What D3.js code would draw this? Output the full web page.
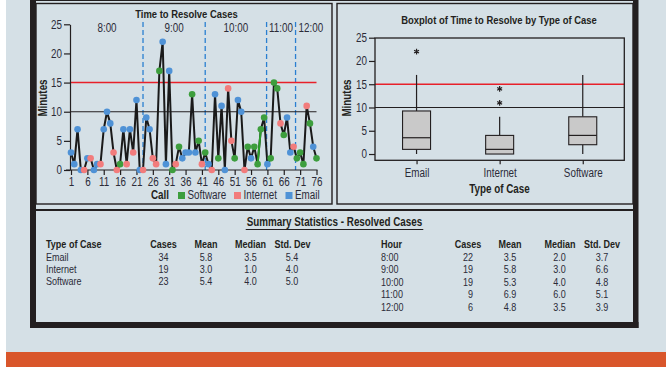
<!DOCTYPE html>
<html><head><meta charset="utf-8">
<script src="https://cdn.jsdelivr.net/npm/d3@7"></script>
<style>
body{margin:0;background:#fff;}
svg{display:block;font-family:"Liberation Sans",Arial,sans-serif;}
</style></head><body><svg id="c" width="666" height="367"></svg>
<script>
// ---------- data ----------
const minutes = [3,1,7,0,0,2,2,0,1,1, 7,10,8,3,0,1,7,1,7,3, 12,0,0,9,7,2,1,17,22,1,
  17,0,1,4,2,3,3,13,3,5, 1,3,1,0,13,2,11,0,14,5, 2,12,10,0,4,2,4,1,7,9,
  1,2,15,14,8,6,9,3,4,2, 3,1,11,8,4,2];
const caseCode = ["E","E","E","E","I","E","I","E","E","I", "E","E","E","I","I","S","E","I","E","I",
  "E","E","I","E","E","I","I","S","E","E", "E","S","I","S","E","E","E","S","E","S",
  "I","S","E","I","E","S","E","E","I","I", "S","E","E","I","S","E","S","S","S","S",
  "E","S","S","S","I","S","E","E","I","S", "S","S","I","S","E","S"];
const typeNames = {E:"Email", I:"Internet", S:"Software"};
const categories = ["Email","Internet","Software"];
const legendOrder = ["Software","Internet","Email"];
const typeColors = ["#4f92d6","#f27c7c","#3d9e3d"]; // Email, Internet, Software
const hourLabels = ["8:00","9:00","10:00","11:00","12:00"];
const hourBreaks = [1, 23, 42, 60.75, 69.6, 79];
const greenSegment = [58, 59];
const yTicks = [0,5,10,15,20,25];
const xTicks = [1,6,11,16,21,26,31,36,41,46,51,56,61,66,71,76];
const refRed = 15, refBlack = 10;

const typeRows = ["Email","Internet","Software"];
const typeCases = [34,19,23];
const typeMean = ["5.8","3.0","5.4"];
const typeMedian = ["3.5","1.0","4.0"];
const typeSD = ["5.4","4.0","5.0"];
const hourRows = ["8:00","9:00","10:00","11:00","12:00"];
const hourCases = [22,19,19,9,6];
const hourMean = ["3.5","5.8","5.3","6.9","4.8"];
const hourMedian = ["2.0","3.0","4.0","6.0","3.5"];
const hourSD = ["3.7","6.6","4.8","5.1","3.9"];

// ---------- setup ----------
const svg = d3.select("#c");
const BG = "#d5e0e6", INK = "#231f20", TXT = "#2b2b38";
const NARROW = 0.82;
const color = d3.scaleOrdinal().domain(categories).range(typeColors);
const calls = minutes.map((m,i)=>({call:i+1, m, type:typeNames[caseCode[i]]}));

svg.append("rect").attr("x",6).attr("y",0).attr("width",660).attr("height",352).attr("fill",BG);
svg.append("rect").attr("x",6).attr("y",352).attr("width",660).attr("height",15).attr("fill","#d9562b");

// panels
svg.append("rect").attr("x",36).attr("y",3.5).attr("width",296).attr("height",200.5).attr("fill","none").attr("stroke",INK).attr("stroke-width",1.4);
svg.append("rect").attr("x",337).attr("y",3.5).attr("width",296).attr("height",200.5).attr("fill","none").attr("stroke",INK).attr("stroke-width",1.4);
svg.append("line").attr("x1",36).attr("x2",633).attr("y1",210).attr("y2",210).attr("stroke",INK).attr("stroke-width",2);
// thick frame
svg.append("rect").attr("x",30).attr("y",0).attr("width",6).attr("height",328).attr("fill",INK);
svg.append("rect").attr("x",633).attr("y",0).attr("width",5.5).attr("height",328).attr("fill",INK);
svg.append("rect").attr("x",30).attr("y",322).attr("width",608.5).attr("height",6).attr("fill",INK);
svg.append("line").attr("x1",30).attr("x2",638).attr("y1",0.5).attr("y2",0.5).attr("stroke",INK).attr("stroke-width",1);

// ---------- left: time series ----------
const x = d3.scaleLinear().domain([1,76]).range([71,316.5]);
const y = d3.scaleLinear().domain([0,25]).range([170,24.3]);
const L = svg.append("g");

L.append("text").attr("x",186.5).attr("y",18).attr("text-anchor","middle")
  .attr("font-weight","bold").attr("font-size",11.5).attr("fill",INK).text("Time to Resolve Cases");

// hour breaks + labels
L.selectAll(".hb").data(hourBreaks.slice(1,-1)).join("line")
  .attr("x1",d=>x(d)).attr("x2",d=>x(d)).attr("y1",22).attr("y2",170)
  .attr("stroke","#2a7fd1").attr("stroke-width",1.3).attr("stroke-dasharray","5,3");
L.selectAll(".hl").data(hourLabels).join("text")
  .attr("x",(d,i)=>x((hourBreaks[i]+hourBreaks[i+1])/2)).attr("y",31.5)
  .attr("text-anchor","middle").attr("font-size",12).attr("fill",TXT).text(d=>d);

// reference lines
L.append("line").attr("x1",70).attr("x2",x(76)).attr("y1",y(refRed)).attr("y2",y(refRed)).attr("stroke","#e8202a").attr("stroke-width",1.5);
L.append("line").attr("x1",70).attr("x2",x(76)).attr("y1",y(refBlack)).attr("y2",y(refBlack)).attr("stroke",INK).attr("stroke-width",1.1);

// axes
const ya = L.append("g").attr("transform","translate(70,0)")
  .call(d3.axisLeft(y).tickValues(yTicks).tickSize(6).tickSizeOuter(0).tickPadding(2));
const xa = L.append("g").attr("transform","translate(0,170)")
  .call(d3.axisBottom(x).tickValues(xTicks).tickSize(5).tickSizeOuter(0).tickPadding(2));
xa.select(".domain").attr("d",`M66,0H${x(76)+1}`);
[ya,xa].forEach(a=>{
  a.attr("font-family",null).attr("font-size",null);
  a.selectAll("path,line").attr("stroke",INK).attr("stroke-width",1.2);
  a.selectAll("text").attr("font-size",12).attr("fill",TXT);
});

// series line
L.append("path").datum(calls).attr("fill","none").attr("stroke","#1a1a1a").attr("stroke-width",2)
  .attr("stroke-linejoin","round")
  .attr("d",d3.line().x(d=>x(d.call)).y(d=>y(d.m)));
L.append("path").datum(calls.filter(d=>d.call>=greenSegment[0]&&d.call<=greenSegment[1]))
  .attr("fill","none").attr("stroke","#2aa02a").attr("stroke-width",2)
  .attr("d",d3.line().x(d=>x(d.call)).y(d=>y(d.m)));
L.selectAll(".pt").data(calls).join("circle")
  .attr("cx",d=>x(d.call)).attr("cy",d=>y(d.m)).attr("r",3.3).attr("fill",d=>color(d.type));

L.append("text").attr("transform","translate(47,98) rotate(-90)").attr("text-anchor","middle")
  .attr("font-weight","bold").attr("font-size",12).attr("fill",INK).text("Minutes");

// legend
const lg = L.append("g").attr("transform","translate(0,199)");
lg.append("text").attr("x",151).attr("y",0).attr("font-weight","bold").attr("font-size",12).attr("fill",INK).text("Call");
const legX = [178,234,285.5];
legendOrder.forEach((t,i)=>{
  lg.append("rect").attr("x",legX[i]).attr("y",-7).attr("width",7).attr("height",7).attr("fill",color(t));
  lg.append("text").attr("x",legX[i]+9.5).attr("y",0).attr("font-size",12).attr("fill",TXT).text(t);
});

// ---------- right: boxplot ----------
function mq(s,p){ // Minitab-style quantile, position (n+1)p
  const n=s.length, pos=(n+1)*p;
  if(pos<=1) return s[0]; if(pos>=n) return s[n-1];
  const lo=Math.floor(pos), f=pos-lo; return s[lo-1]+f*(s[lo]-s[lo-1]);
}
const stats = categories.map(c=>{
  const s = calls.filter(d=>d.type===c).map(d=>d.m).sort(d3.ascending);
  const q1=mq(s,.25), med=mq(s,.5), q3=mq(s,.75), iqr=q3-q1;
  const lf=q1-1.5*iqr, uf=q3+1.5*iqr;
  const inside=s.filter(v=>v>=lf&&v<=uf);
  return {c,q1,med,q3,lo:d3.min(inside),hi:d3.max(inside),out:s.filter(v=>v<lf||v>uf)};
});
const bx = d3.scalePoint().domain(categories).range([375,624.3]).padding(0.5);
const by = d3.scaleLinear().domain([-1.35,25]).range([160.3,37.7]);
const R = svg.append("g");
R.append("text").attr("x",499).attr("y",24).attr("text-anchor","middle")
  .attr("font-weight","bold").attr("font-size",11.5).attr("fill",INK).text("Boxplot of Time to Resolve by Type of Case");
R.append("line").attr("x1",375).attr("x2",624.3).attr("y1",by(refRed)).attr("y2",by(refRed)).attr("stroke","#e8202a").attr("stroke-width",1.5);
R.append("line").attr("x1",375).attr("x2",624.3).attr("y1",by(refBlack)).attr("y2",by(refBlack)).attr("stroke",INK).attr("stroke-width",1.1);
const bw = 28;
const bg = R.selectAll(".bx").data(stats).join("g");
bg.append("line").attr("x1",d=>bx(d.c)).attr("x2",d=>bx(d.c)).attr("y1",d=>by(d.hi)).attr("y2",d=>by(d.q3)).attr("stroke",INK).attr("stroke-width",1.2);
bg.append("line").attr("x1",d=>bx(d.c)).attr("x2",d=>bx(d.c)).attr("y1",d=>by(d.lo)).attr("y2",d=>by(d.q1)).attr("stroke",INK).attr("stroke-width",1.2);
bg.append("rect").attr("x",d=>bx(d.c)-bw/2).attr("width",bw).attr("y",d=>by(d.q3)).attr("height",d=>by(d.q1)-by(d.q3))
  .attr("fill","#c9c9c9").attr("stroke",INK).attr("stroke-width",1.1);
bg.append("line").attr("x1",d=>bx(d.c)-bw/2).attr("x2",d=>bx(d.c)+bw/2).attr("y1",d=>by(d.med)).attr("y2",d=>by(d.med)).attr("stroke",INK).attr("stroke-width",1.2);
const ast = d3.symbol(d3.symbolAsterisk,22);
bg.each(function(d){
  d3.select(this).selectAll("path.o").data(d.out).join("path").attr("class","o")
    .attr("transform",v=>`translate(${bx(d.c)},${by(v)})`).attr("d",ast)
    .attr("fill","none").attr("stroke",INK).attr("stroke-width",1.2);
});
R.append("rect").attr("x",375).attr("y",38).attr("width",249.3).attr("height",122.3).attr("fill","none").attr("stroke",INK).attr("stroke-width",1.3);
const rya = R.append("g").attr("transform","translate(375,0)")
  .call(d3.axisLeft(by).tickValues(yTicks).tickSize(6).tickSizeOuter(0).tickPadding(2));
rya.select(".domain").remove();
const rxa = R.append("g").attr("transform","translate(0,160.3)")
  .call(d3.axisBottom(bx).tickSize(4).tickSizeOuter(0).tickPadding(4));
rxa.select(".domain").remove();
[rya,rxa].forEach(a=>{
  a.attr("font-family",null).attr("font-size",null);
  a.selectAll("line").attr("stroke",INK).attr("stroke-width",1.2);
  a.selectAll("text").attr("font-size",12).attr("fill",TXT);
});
R.append("text").attr("x",499.5).attr("y",193).attr("text-anchor","middle").attr("font-weight","bold").attr("font-size",12).attr("fill",INK).text("Type of Case");
R.append("text").attr("transform","translate(351,98) rotate(-90)").attr("text-anchor","middle")
  .attr("font-weight","bold").attr("font-size",12).attr("fill",INK).text("Minutes");

// ---------- summary table ----------
const T = svg.append("g").attr("font-size",11);
const tt = T.append("text").attr("x",334.5).attr("y",226).attr("text-anchor","middle").attr("font-weight","bold").attr("font-size",12).attr("fill",INK).text("Summary Statistics - Resolved Cases");

function table(heads, cols, rowGap){
  heads.forEach(h=>T.append("text").attr("x",h.x).attr("y",247.5).attr("text-anchor",h.a).attr("font-weight","bold").attr("fill",INK).text(h.t));
  cols.forEach(col=>{
    T.selectAll(null).data(col.v).join("text").attr("x",col.x).attr("y",(d,i)=>260.5+i*rowGap)
      .attr("text-anchor",col.a).attr("fill",TXT).text(d=>d);
  });
}
table(
  [{t:"Type of Case",x:46,a:"start"},{t:"Cases",x:163.5,a:"middle"},{t:"Mean",x:206,a:"middle"},{t:"Median",x:250.5,a:"middle"},{t:"Std. Dev",x:292.5,a:"middle"}],
  [{v:typeRows,x:46,a:"start"},{v:typeCases,x:163.5,a:"middle"},{v:typeMean,x:206,a:"middle"},{v:typeMedian,x:250.5,a:"middle"},{v:typeSD,x:292,a:"middle"}],
  12.2);
table(
  [{t:"Hour",x:381,a:"start"},{t:"Cases",x:468,a:"middle"},{t:"Mean",x:510,a:"middle"},{t:"Median",x:560,a:"middle"},{t:"Std. Dev",x:602,a:"middle"}],
  [{v:hourRows,x:381,a:"start"},{v:hourCases,x:473,a:"end"},{v:hourMean,x:510,a:"middle"},{v:hourMedian,x:559.5,a:"middle"},{v:hourSD,x:602,a:"middle"}],
  12.5);

// condense every text (Arial -> Arial Narrow proportions)
svg.selectAll("text").each(function(){
  const w = this.getComputedTextLength();
  d3.select(this).attr("textLength", w*NARROW).attr("lengthAdjust","spacingAndGlyphs");
});
const tw = tt.node().getComputedTextLength();
T.append("line").attr("x1",334.5-tw/2-1).attr("x2",334.5+tw/2+1).attr("y1",229.5).attr("y2",229.5).attr("stroke",INK).attr("stroke-width",1.2);
</script></body></html>
